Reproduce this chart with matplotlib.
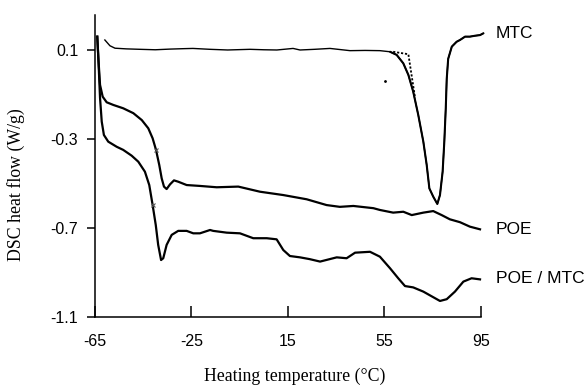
import matplotlib
matplotlib.use("Agg")
import matplotlib.pyplot as plt

# MTC (thin trace with melting peak)
mtc_t = [-60.9, -58.8, -56.7, -52.0, -46.3, -40.0, -33.9, -28.0, -24.4, -17.3, -10.0, -0.75, 5.0,
         10.4, 17.1, 20.0, 26.0, 32.4, 40.7, 47.0, 53.1, 57.3, 60.05, 62.8, 64.9, 66.9, 69.0, 71.1,
         72.5, 73.6, 75.2, 76.9, 78.0, 79.1, 79.8, 80.4, 80.8, 81.4, 82.9, 84.9, 86.3, 88.4, 90.4,
         92.5, 94.6, 96.0]
mtc_y = [0.145, 0.119, 0.108, 0.105, 0.103, 0.101, 0.104, 0.106, 0.107, 0.103, 0.100, 0.103,
         0.101, 0.100, 0.107, 0.100, 0.103, 0.107, 0.097, 0.098, 0.097, 0.092, 0.078, 0.040,
         -0.012, -0.087, -0.192, -0.312, -0.417, -0.522, -0.559, -0.592, -0.552, -0.447, -0.312,
         -0.162, -0.030, 0.060, 0.115, 0.137, 0.145, 0.160, 0.160, 0.164, 0.167, 0.175]

# onset tangent construction (dotted)
tan_t = [58.6, 64.9, 67.6]
tan_y = [0.092, 0.081, -0.110]

# POE
poe_t = [-64.05, -63.6, -62.9, -61.8, -60.15, -57.4, -53.3, -49.1, -45.6, -42.9, -41.1, -39.7,
         -38.35, -37.35, -36.4, -35.3, -33.9, -32.25, -30.5, -27.0, -21.5, -14.55, -5.6, 3.4,
         13.05, 22.75, 31.0, 36.5, 42.1, 50.4, 53.1, 58.6, 62.8, 66.3, 71.1, 75.2, 78.7, 82.1,
         86.3, 90.4, 94.6]
poe_y = [0.160, 0.063, -0.057, -0.110, -0.135, -0.147, -0.162, -0.184, -0.215, -0.252, -0.297,
         -0.349, -0.417, -0.477, -0.514, -0.525, -0.504, -0.486, -0.492, -0.507, -0.511, -0.517,
         -0.514, -0.537, -0.552, -0.571, -0.597, -0.605, -0.601, -0.611, -0.619, -0.631, -0.627,
         -0.642, -0.631, -0.624, -0.642, -0.661, -0.674, -0.694, -0.706]

# POE / MTC
mix_t = [-64.05, -63.6, -62.9, -62.2, -61.3, -59.5, -56.0, -53.3, -49.8, -47.05, -44.3, -42.5,
         -41.1, -39.8, -38.8, -37.6, -36.7, -35.3, -33.2, -30.5, -27.0, -24.25, -21.5, -17.3,
         -16.0, -10.4, -4.9, 0.6, 6.2, 10.3, 13.05, 15.8, 20.0, 24.0, 28.3, 35.2, 39.3, 42.8,
         49.0, 53.1, 57.3, 60.7, 63.5, 66.9, 71.1, 75.2, 78.0, 80.8, 84.2, 87.7, 91.1, 94.6]
mix_y = [0.160, 0.063, -0.116, -0.222, -0.282, -0.312, -0.335, -0.349, -0.375, -0.402, -0.447,
         -0.507, -0.597, -0.687, -0.776, -0.844, -0.836, -0.776, -0.731, -0.713, -0.713, -0.724,
         -0.724, -0.709, -0.713, -0.721, -0.724, -0.746, -0.746, -0.751, -0.799, -0.826, -0.832,
         -0.840, -0.851, -0.832, -0.836, -0.811, -0.807, -0.829, -0.881, -0.926, -0.961, -0.967,
         -0.986, -1.011, -1.028, -1.020, -0.986, -0.941, -0.926, -0.931]

labels = ["MTC", "POE", "POE / MTC"]
label_y = [0.176, -0.709, -0.929]
label_x = 101.2

xticks = [-65, -25, 15, 55, 95]
yticks = [0.1, -0.3, -0.7, -1.1]

fig = plt.figure(figsize=(5.87, 3.86), dpi=100)
ax = fig.add_axes([0.1618, 0.1788, 0.6576, 0.7822])

ax.plot(mtc_t, mtc_y, color="black", lw=1.0, clip_on=False)
# the melting peak is drawn a bit heavier in the original
peak = mtc_t.index(57.3)
ax.plot(mtc_t[peak:], mtc_y[peak:], color="black", lw=1.5, clip_on=False,
        solid_capstyle="round", solid_joinstyle="round")
ax.plot(tan_t, tan_y, color="black", lw=1.3, ls=(0, (1.2, 1.0)), clip_on=False)
ax.plot(poe_t, poe_y, color="black", lw=1.6, clip_on=False, solid_joinstyle="round")
ax.plot(mix_t, mix_y, color="black", lw=1.6, clip_on=False, solid_joinstyle="round")

# small marks left on the traces
ax.plot([-39.7, -41.1], [-0.349, -0.597], "x", color="#555555", ms=3, mew=0.8)
ax.plot([55.2], [-0.039], ".", color="black", ms=2)

for name, yv in zip(labels, label_y):
    ax.text(label_x, yv, name, fontsize=12.5, family="Liberation Sans",
            va="center", ha="left")

ax.set_xlim(-65, 95)
ax.set_ylim(-1.1, 0.257)
ax.set_xticks(xticks)
ax.set_yticks(yticks)
ax.set_xticklabels([str(v) for v in xticks], fontsize=11.5, family="Liberation Sans")
ax.set_yticklabels([f"{v:.1f}" for v in yticks], fontsize=11.5, family="Liberation Sans")
ax.tick_params(axis="x", direction="in", length=8, width=1.1, pad=12)
ax.tick_params(axis="y", direction="out", length=6, width=1.1, pad=6)

for s in ["top", "right"]:
    ax.spines[s].set_visible(False)
for s in ["left", "bottom"]:
    ax.spines[s].set_linewidth(1.1)

ax.set_xlabel("Heating temperature (°C)", fontsize=12.8, family="Liberation Serif")
ax.set_ylabel("DSC heat flow (W/g)", fontsize=12.8, family="Liberation Serif")
ax.xaxis.set_label_coords(0.518, -0.169)
ax.yaxis.set_label_coords(-0.181, 0.437)

fig.savefig("out.png", dpi=100)
